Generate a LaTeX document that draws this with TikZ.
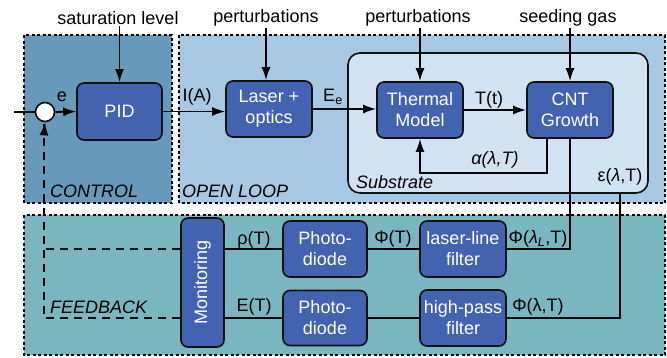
\documentclass[tikz,border=0pt]{standalone}
\usepackage{fontspec}
\setmainfont{Liberation Sans}
\usetikzlibrary{arrows.meta}
\definecolor{ctrlfill}{HTML}{6699BA}
\definecolor{openfill}{HTML}{A6C8E2}
\definecolor{subfill}{HTML}{D1E3F1}
\definecolor{fbfill}{HTML}{7AB6C0}
\definecolor{blockfill}{HTML}{4263B0}
\definecolor{edgedark}{HTML}{111111}
\begin{document}
\begin{tikzpicture}[x=1pt,y=-1pt,
  font=\fontsize{18}{21}\selectfont,
  region/.style={draw=black,line width=1.6pt,dash pattern=on 3pt off 2.5pt},
  block/.style={draw=edgedark,line width=1.6pt,fill=blockfill,text=white,
    rounded corners=7pt,align=center,inner sep=0pt},
  wire/.style={line width=1.8pt},
  arr/.style={wire,-{Latex[length=13pt,width=9pt]}},
  fbline/.style={wire,dash pattern=on 8pt off 6pt},
  lbl/.style={inner sep=1pt},
  zone/.style={font=\fontsize{18}{21}\selectfont\itshape,anchor=west,inner sep=0pt}]
\useasboundingbox (0,0) rectangle (667,357);

% shaded zones
\fill[ctrlfill] (24,35) rectangle (172,203);
\fill[openfill] (179,35) rectangle (665,203);
\fill[fbfill] (24,215) rectangle (665,355);
\draw[region] (24,35) rectangle (172,203);
\draw[region] (179,35) rectangle (665,203);
\draw[region] (24,215) rectangle (665,355);

% substrate container
\node[draw=edgedark,line width=1.6pt,fill=subfill,rounded corners=12pt,
  minimum width=300pt,minimum height=140pt,inner sep=0pt] (sub) at (498,123) {};

% zone titles
\node[zone] (ctrlname) at (50,191) {CONTROL};
\node[zone] (openname) at (182,191) {OPEN LOOP};
\node[zone] (fbname) at (50,307) {FEEDBACK};
\node[zone] (subname) at (356,182) {Substrate};

% blocks
\node[block,minimum width=85pt,minimum height=57pt] (pid) at (119.5,111.5) {PID};
\node[block,minimum width=86pt,minimum height=56pt] (laser) at (269,109) {Laser +\\optics};
\node[block,minimum width=86pt,minimum height=56pt] (thermal) at (420,110) {Thermal\\Model};
\node[block,minimum width=86pt,minimum height=56pt] (cnt) at (570,110) {CNT\\Growth};
\node[block,minimum width=43pt,minimum height=129pt] (mon) at (202.5,282.5) {};
\node[text=white,rotate=90,inner sep=0pt] (montext) at (mon.center) {Monitoring};
\node[block,minimum width=84pt,minimum height=56pt] (pd1) at (325,249) {Photo-\\diode};
\node[block,minimum width=86pt,minimum height=56pt] (llf) at (463,249) {laser-line\\filter};
\node[block,minimum width=84pt,minimum height=55pt] (pd2) at (325,318) {Photo-\\diode};
\node[block,minimum width=86pt,minimum height=56pt] (hpf) at (463,318) {high-pass\\filter};

% summing junction
\node[circle,draw=edgedark,line width=1.6pt,fill=white,minimum size=19pt,inner sep=0pt] (sum) at (45,112) {};
\coordinate (in) at (14,112);

% external inputs
\node[lbl] (sat) at (118,18) {saturation level};
\node[lbl] (pert1) at (266,18) {perturbations};
\node[lbl] (pert2) at (418,18) {perturbations};
\node[lbl] (seed) at (568,18) {seeding gas};

\draw[arr] (sat.south -| pid.north) -- (pid.north);
\draw[arr] (pert1.south) -- (pert1.south |- laser.north);
\draw[arr] (pert2.south -| thermal.north) -- (thermal.north);
\draw[arr] (seed.south -| cnt.north) -- (cnt.north);

% forward path
\draw[wire] (in) -- (sum.west);
\draw[arr] (sum.east) -- (pid.west);
\draw[arr] (pid.east) -- (pid.east -| laser.west);
\draw[arr] (laser.east) -- (laser.east -| thermal.west);
\draw[arr] (thermal.east) -- (cnt.west);
\draw[arr] ([xshift=-23pt]cnt.south) -- ++(0,34) -| (thermal.south);

\node[lbl] (elbl) at (62,97) {e};
\node[lbl] (ialbl) at (197,97) {I(A)};
\node[lbl] (eelbl) at (333,97) {E\textsubscript{e}};
\node[lbl] (ttlbl) at (489,100) {T(t)};
\node[lbl] (alpha) at (495,160) {\itshape α(λ,T)};
\node[lbl] (epslbl) at (620,177) {ε(\textit{λ},T)};

% measurement paths
\coordinate (epsout) at (620,193);
\draw[wire] (llf.east) -| (cnt.south);
\draw[wire] (epsout) |- (hpf.east);
\draw[wire] (mon.east |- pd1) -- (pd1.west);
\draw[wire] (pd1.east) -- (llf.west);
\draw[wire] (mon.east |- hpf) -- (pd2.west |- hpf);
\draw[wire] (pd2.east |- hpf) -- (hpf.west);

\node[lbl] (rholbl) at (254,240) {ρ(T)};
\node[lbl] (etlbl) at (254,307) {E(T)};
\node[lbl] (phit) at (393,239) {Φ(T)};
\node[lbl] (phil) at (538,239) {Φ(\textit{λ}\textsubscript{\itshape L},T)};
\node[lbl] (phi) at (538,307) {Φ(λ,T)};

% feedback to the summing junction
\coordinate (fbtop) at (44,249);
\coordinate (fbbot) at (44,318);
\draw[fbline] (mon.west |- pd1) -- (fbtop);
\draw[fbline] (mon.west |- hpf) -- (fbbot) -- (fbbot |- sum.south);
\draw[arr] (44,135) -- (sum.south);
\end{tikzpicture}
\end{document}
